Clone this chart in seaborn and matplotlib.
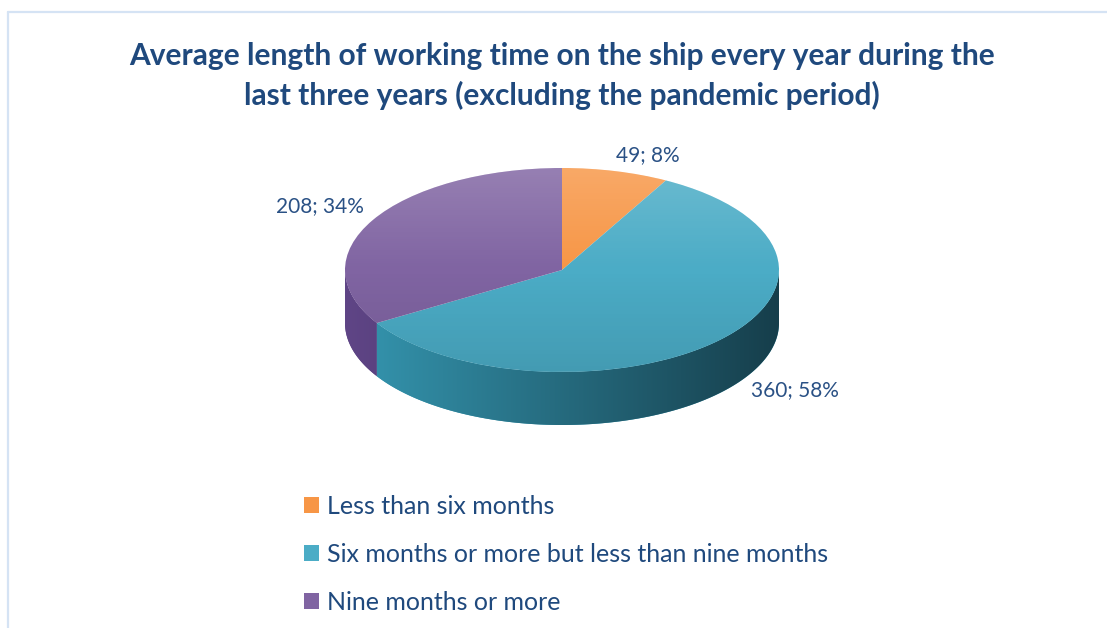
import numpy as np
import matplotlib
matplotlib.use("Agg")
import matplotlib.pyplot as plt
import seaborn as sns
from matplotlib.patches import Patch, Circle, Polygon
from matplotlib.lines import Line2D
from matplotlib.colors import to_rgb

# ---------------- data ----------------
categories = ["Less than six months",
              "Six months or more but less than nine months",
              "Nine months or more"]
counts = [49, 360, 208]
percents = [8, 58, 34]
title = ("Average length of working time on the ship every year during the\n"
         "last three years (excluding the pandemic period)")

# ---------------- style ----------------
top_colors = ["#f79646", "#4bacc6", "#8064a2"]
side_left = ["#e07d2a", "#3597b1", "#5f4586"]
side_right = ["#7a4310", "#163e4b", "#2f2045"]
text_color = "#1f497d"
label_color = "#2a5185"
label_radius = [1.19, 1.59, 1.28]
label_shift = [-5.0, -4.0, 0.0]

sns.set_theme(style="white")
plt.rcParams["font.family"] = ["Lato", "DejaVu Sans"]

W, H = 1107, 628
fig = plt.figure(figsize=(W / 100, H / 100), dpi=100)
ax = fig.add_axes([0, 0, 1, 1])

# pixel geometry of the tilted pie
cx, cy = 562, 270
rx, ry = 217, 102
depth = 53 / ry

wedges, _ = ax.pie(counts, colors=top_colors, startangle=90, counterclock=False,
                   radius=1, center=(0, 0), wedgeprops=dict(linewidth=0, zorder=5))
ax.set_aspect("auto")
ax.axis("off")

# ---- side of the pie (visible front half), one gradient-filled band per slice ----
for i, w in enumerate(wedges):
    a0 = w.theta1 % 360
    a1 = a0 + (w.theta2 - w.theta1)
    segs = []
    for off in (-360, 0, 360):
        lo, hi = max(a0 + off, 180), min(a1 + off, 360)
        if hi > lo:
            segs.append((lo, hi))
    for lo, hi in segs:
        t = np.radians(np.linspace(lo, hi, 200))
        top = np.column_stack([np.cos(t), np.sin(t)])
        bot = np.column_stack([np.cos(t[::-1]), np.sin(t[::-1]) - depth])
        poly = Polygon(np.vstack([top, bot]), closed=True, facecolor=side_left[i],
                       edgecolor="none", zorder=3)
        ax.add_patch(poly)
        cl = np.array(to_rgb(side_left[i]))
        cr = np.array(to_rgb(side_right[i]))
        s = np.linspace(0, 1, 400)[None, :, None]
        img = np.repeat(cl + (cr - cl) * s, 2, axis=0)
        im = ax.imshow(img, extent=(-1, 1, -1 - depth, 0), origin="upper",
                       aspect="auto", zorder=4, interpolation="bilinear")
        im.set_clip_path(poly)

# ---- soft vertical gradient on the top face ----
grad = np.zeros((200, 2, 4))
g = np.linspace(0, 1, 200)[:, None]
top_alpha = np.clip(0.18 * (1 - 2 * g), 0, None)
bot_alpha = np.clip(0.10 * (2 * g - 1), 0, None)
grad[..., :3] = np.where(g[..., None] < 0.5, 1.0, 0.0)
grad[..., 3] = (top_alpha + bot_alpha)
im = ax.imshow(grad, extent=(-1, 1, -1, 1), origin="upper", aspect="auto",
               zorder=6, interpolation="bilinear")
clip = Circle((0, 0), 1, transform=ax.transData)
im.set_clip_path(clip)
ax.set_xlim(-cx / rx, (W - cx) / rx)
ax.set_ylim(-(H - cy) / ry, cy / ry)

# ---- data labels ----
for i, w in enumerate(wedges):
    mid = np.radians((w.theta1 + w.theta2) / 2 + label_shift[i])
    lx = label_radius[i] * np.cos(mid)
    ly = label_radius[i] * np.sin(mid)
    ax.text(lx, ly, f"{counts[i]}; {percents[i]}%", ha="center", va="center",
            fontsize=15, color=label_color, zorder=10)

# ---- title ----
fig.text(562 / W, 1 - 76 / H, title, ha="center", va="center", fontsize=21.5,
         fontweight="bold", color=text_color, linespacing=1.45)

# ---- legend ----
handles = [Patch(facecolor=c, edgecolor="none") for c in top_colors]
fig.legend(handles, categories, loc="upper left",
           bbox_to_anchor=(304 / W, 1 - 495 / H), frameon=False,
           fontsize=18, labelcolor=text_color, handlelength=0.6, handleheight=0.6,
           handletextpad=0.33, labelspacing=1.0, borderpad=0, borderaxespad=0)

# ---- chart frame (partially visible) ----
fc = "#d5e3f4"
fig.add_artist(Line2D([8 / W, 8 / W], [0, 1 - 12 / H], color=fc, lw=1.6))
fig.add_artist(Line2D([8 / W, 1], [1 - 12 / H, 1 - 12 / H], color=fc, lw=1.6))

fig.savefig("out.png", dpi=100)
